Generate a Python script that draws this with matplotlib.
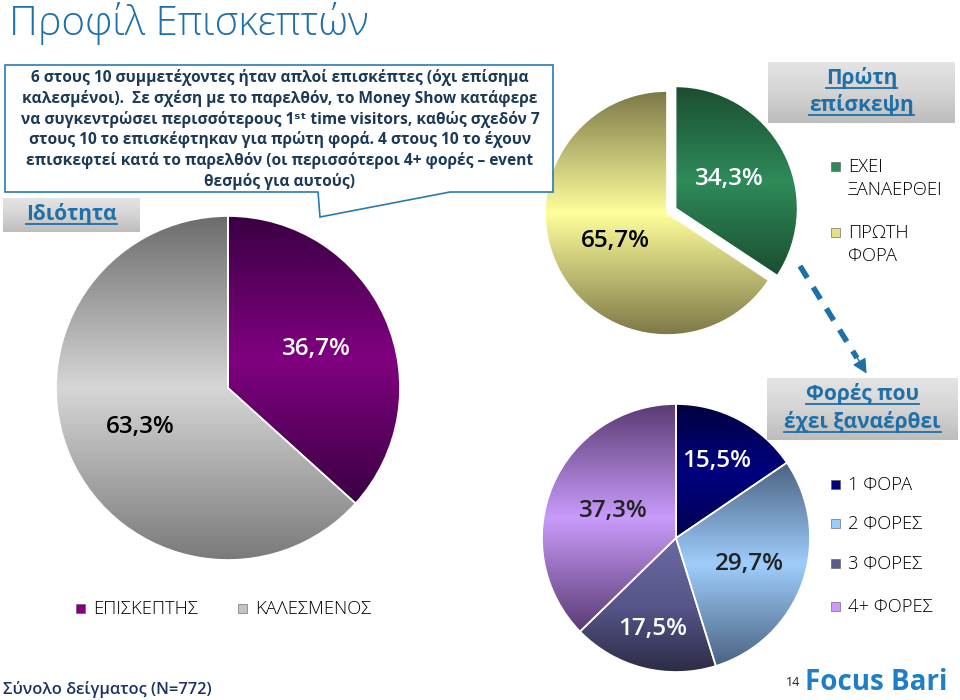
import numpy as np
import matplotlib
matplotlib.use('Agg')
import matplotlib.pyplot as plt
from matplotlib.colors import LinearSegmentedColormap
from matplotlib.patches import Rectangle, Polygon

plt.rcParams['font.family'] = ['Open Sans', 'DejaVu Sans']

# data
role_labels = ['ΕΠΙΣΚΕΠΤΗΣ', 'ΚΑΛΕΣΜΕΝΟΣ']
role_values = [36.7, 63.3]
first_labels = ['ΕΧΕΙ\nΞΑΝΑΕΡΘΕΙ', 'ΠΡΩΤΗ\nΦΟΡΑ']
first_values = [34.3, 65.7]
times_labels = ['1 ΦΟΡΑ', '2 ΦΟΡΕΣ', '3 ΦΟΡΕΣ', '4+ ΦΟΡΕΣ']
times_values = [15.5, 29.7, 17.5, 37.3]

# styling (gradient top/mid/bottom, legend colour)
role_grad = [('#3a0042', '#800080', '#3a0042'), ('#6c6c6c', '#d6d6d6', '#7a7a7a')]
role_leg = ['#800080', '#c4c4c4']
first_grad = [('#1b4d30', '#2e8b5a', '#1b4d30'), ('#7d7848', '#ffff9c', '#7d7848')]
first_leg = ['#2e8b57', '#e3e08a']
times_grad = [('#000040', '#000080', '#000050'), ('#4a6282', '#9fcdfb', '#4a6282'),
              ('#6a6aa2', '#56568a', '#2c2c46'), ('#5a3a72', '#c99bfb', '#5a3a72')]
times_leg = ['#000080', '#99ccff', '#5a5a8f', '#cc99ff']

W, H = 960, 700
fig = plt.figure(figsize=(9.6, 7), dpi=100)
fig.patch.set_facecolor('white')
BLUE = '#1f6fa8'


def pie_axes(cx, cy, r, lim=1.12):
    ax = fig.add_axes([(cx - r * lim) / W, (H - cy - r * lim) / H,
                       2 * r * lim / W, 2 * r * lim / H])
    ax.set_xlim(-lim, lim)
    ax.set_ylim(-lim, lim)
    ax.axis('off')
    return ax


def draw_pie(ax, values, grads, dists, tcolors, explode=None):
    wedges, _ = ax.pie(values, startangle=90, counterclock=False, radius=1,
                       explode=explode,
                       wedgeprops=dict(edgecolor='white', linewidth=1.2))
    for w, g, d, c, v in zip(wedges, grads, dists, tcolors, values):
        bb = w.get_path().get_extents()
        cmap = LinearSegmentedColormap.from_list('g', list(g))
        grad = np.linspace(0, 1, 256).reshape(-1, 1)
        im = ax.imshow(grad, cmap=cmap, extent=(bb.x0, bb.x1, bb.y0, bb.y1),
                       origin='upper', aspect='auto', zorder=0.5)
        im.set_clip_path(w)
        w.set_facecolor('none')
        ang = np.deg2rad((w.theta1 + w.theta2) / 2)
        cx, cy = w.center
        ax.text(cx + d * np.cos(ang), cy + d * np.sin(ang),
                f'{v:.1f}%'.replace('.', ','), ha='center', va='center',
                fontsize=17.5, fontweight='semibold', color=c, zorder=3)
    return wedges


ax1 = pie_axes(228, 388, 172)
draw_pie(ax1, role_values, role_grad, [0.56, 0.56], ['white', 'black'])
ax1.set_xlim(-1.12, 1.12); ax1.set_ylim(-1.12, 1.12)

ax2 = pie_axes(667, 213, 122, lim=1.2)
draw_pie(ax2, first_values, first_grad, [0.5, 0.48], ['white', 'black'], explode=[0.08, 0])
ax2.set_xlim(-1.2, 1.2); ax2.set_ylim(-1.2, 1.2)

ax3 = pie_axes(676, 538, 134)
draw_pie(ax3, times_values, times_grad, [0.65, 0.58, 0.7, 0.51], ['white', '#222222', 'white', '#222222'])
ax3.set_xlim(-1.12, 1.12); ax3.set_ylim(-1.12, 1.12)

# overlay in pixel coordinates
ov = fig.add_axes([0, 0, 1, 1])
ov.set_xlim(0, W)
ov.set_ylim(H, 0)
ov.axis('off')
ov.patch.set_alpha(0)

ov.text(9, 2, 'Προφίλ Επισκεπτών', fontsize=29, fontweight='light', color=BLUE,
        ha='left', va='top')

# callout box
ov.add_patch(Polygon([(5, 65), (553, 65), (553, 192), (450, 192), (320, 217),
                      (318, 192), (5, 192)], closed=True, facecolor='white',
                     edgecolor='#2a7ab0', lw=1.2, zorder=2))
callout = ['6 στους 10 συμμετέχοντες ήταν απλοί επισκέπτες (όχι επίσημα',
           'καλεσμένοι).  Σε σχέση με το παρελθόν, το Money Show κατάφερε',
           'να συγκεντρώσει περισσότερους 1ˢᵗ time visitors, καθώς σχεδόν 7',
           'στους 10 το επισκέφτηκαν για πρώτη φορά. 4 στους 10 το έχουν',
           'επισκεφτεί κατά το παρελθόν (οι περισσότεροι 4+ φορές – event',
           'θεσμός για αυτούς)']
for i, line in enumerate(callout):
    ov.text(280, 78 + i * 20.6, line, ha='center', va='center', fontsize=11.2,
            fontweight='bold', color='#1c3a56', zorder=3)

renderer = fig.canvas.get_renderer()


def header(x0, y0, x1, y1, lines, ys):
    g = np.linspace(0, 1, 64).reshape(-1, 1)
    cmap = LinearSegmentedColormap.from_list('h', ['#e4e4e4', '#d4d4d4', '#bdbdbd'])
    ov.imshow(g, cmap=cmap, extent=(x0, x1, y1, y0), aspect='auto', zorder=1)
    cx = (x0 + x1) / 2
    for line, y in zip(lines, ys):
        t = ov.text(cx, y, line, ha='center', va='center', fontsize=15,
                    fontweight='bold', color=BLUE, zorder=3)
        bb = t.get_window_extent(renderer).transformed(ov.transData.inverted())
        ov.plot([bb.x0, bb.x1], [max(bb.y0, bb.y1) - 1] * 2, color=BLUE, lw=1.3, zorder=3)


header(3, 198, 140, 232, ['Ιδιότητα'], [214])
header(768, 62, 955, 123, ['Πρώτη', 'επίσκεψη'], [78, 105])
header(767, 378, 958, 440, ['Φορές που', 'έχει ξαναέρθει'], [394, 422])
ov.set_xlim(0, W); ov.set_ylim(H, 0)


def legend_item(x, y, color, label):
    ov.add_patch(Rectangle((x - 4.5, y - 4.5), 9, 9, facecolor=color,
                           edgecolor='#555555', lw=0.4, zorder=3))
    for j, part in enumerate(label.split('\n')):
        ov.text(x + 13, y + 1 + j * 23, part, ha='left', va='center', fontsize=13.2,
                fontweight='light', color='black', zorder=3)


for x, c, lab in zip([80, 242], role_leg, role_labels):
    legend_item(x, 608, c, lab)
for y, c, lab in zip([166, 232], first_leg, first_labels):
    legend_item(835, y, c, lab)
for y, c, lab in zip([484, 523, 563, 606], times_leg, times_labels):
    legend_item(835, y, c, lab)

# dashed arrow
ov.plot([800, 857], [266, 358], color=BLUE, lw=4, linestyle=(0, (2.5, 2)),
        solid_capstyle='butt', zorder=3)
ov.annotate('', xy=(868, 376), xytext=(855, 354),
            arrowprops=dict(arrowstyle='-|>', color=BLUE, lw=1,
                            mutation_scale=22), zorder=3)

# footer
ov.text(3, 689, 'Σύνολο δείγματος (N=772)', ha='left', va='center', fontsize=11.8,
        fontweight='semibold', color='#1a3264')
ov.text(786, 683, '14', ha='left', va='center', fontsize=9, color='#222222')
ov.text(805, 683, 'Focus Bari', ha='left', va='center', fontsize=20,
        fontweight='bold', color='#1f7fc6')

fig.savefig('out.png', dpi=100, facecolor='white')
